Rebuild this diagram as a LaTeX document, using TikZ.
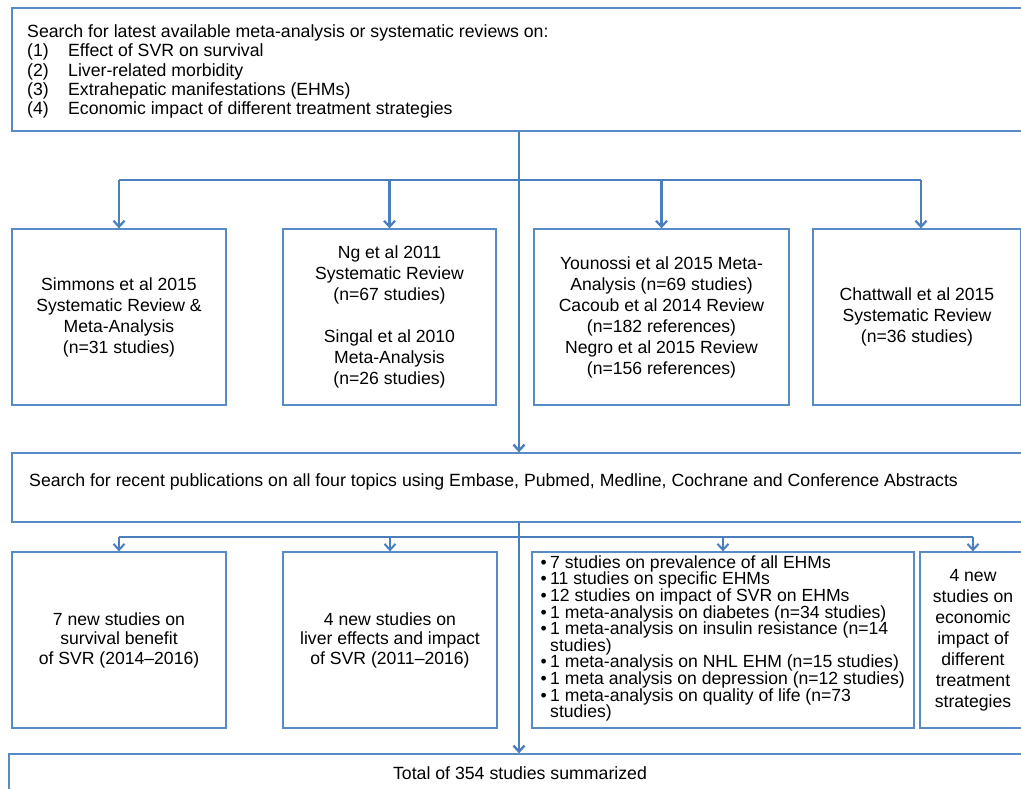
\documentclass[tikz,border=0pt]{standalone}
\usepackage{fontspec}
\setmainfont{Liberation Sans}
\usetikzlibrary{arrows.meta}
\definecolor{boxblue}{RGB}{88,138,197}
\definecolor{lineblue}{RGB}{74,126,189}
\begin{document}
\begin{tikzpicture}[x=1pt,y=-1pt,
  box/.style={draw=boxblue,line width=1.3pt,rectangle,inner sep=0pt,align=center},
  fA/.style={font=\fontsize{17.6}{21}\selectfont},
  fB/.style={font=\fontsize{17.6}{19.5}\selectfont},
  conn/.style={draw=lineblue,line width=2.4pt},
  arr/.style={draw=lineblue,line width=2.2pt,-{Straight Barb[length=6pt,width=11pt]}},
  txt/.style={inner sep=0pt,font=\fontsize{17.7}{19.2}\selectfont}]
\useasboundingbox (0,0) rectangle (1021,788);

% top box
\node[box,minimum width=1024pt,minimum height=123pt] (top) at (524,69.5) {};
\node[txt,anchor=west,align=left] (toptext) at (27,71.5) {Search for latest available meta-analysis or systematic reviews on:\\
\makebox[41pt][l]{(1)}Effect of SVR on survival\\
\makebox[41pt][l]{(2)}Liver-related morbidity\\
\makebox[41pt][l]{(3)}Extrahepatic manifestations (EHMs)\\
\makebox[41pt][l]{(4)}Economic impact of different treatment strategies};

% row 1
\node[box,fA,minimum width=214pt,minimum height=176pt] (b1) at (119,317) {Simmons et al 2015\\Systematic Review \&\\Meta-Analysis\\(n=31 studies)};
\node[box,fA,minimum width=213pt,minimum height=176pt] (b2) at (389.5,317) {Ng et al 2011\\Systematic Review\\(n=67 studies)\\[21pt]Singal et al 2010\\Meta-Analysis\\(n=26 studies)};
\node[box,fA,minimum width=255pt,minimum height=176pt] (b3) at (661.5,317) {Younossi et al 2015 Meta-\\Analysis (n=69 studies)\\Cacoub et al 2014 Review\\(n=182 references)\\Negro et al 2015 Review\\(n=156 references)};
\node[box,fA,minimum width=208pt,minimum height=176pt] (b4) at (917,317) {Chattwall et al 2015\\Systematic Review\\(n=36 studies)};

% search box
\node[box,minimum width=1024pt,minimum height=69pt] (search) at (524,487.5) {};
\node[txt,anchor=west] (searchtext) at (29,482) {Search for recent publications on all four topics using Embase, Pubmed, Medline, Cochrane and Conference Abstracts};

% row 2
\node[box,fB,minimum width=214pt,minimum height=176pt] (c1) at (119,640) {7 new studies on\\survival benefit\\of SVR (2014--2016)};
\node[box,fB,minimum width=214pt,minimum height=176pt] (c2) at (390,640) {4 new studies on\\liver effects and impact\\of SVR (2011--2016)};
\node[box,minimum width=382pt,minimum height=176pt] (c3) at (723,640) {};
\node[inner sep=0pt,anchor=west,align=left,font=\fontsize{17.6}{16.6}\selectfont] (c3text) at (550,638.5) {%
\llap{•\hspace{3.5pt}}7 studies on prevalence of all EHMs\\
\llap{•\hspace{3.5pt}}11 studies on specific EHMs\\
\llap{•\hspace{3.5pt}}12 studies on impact of SVR on EHMs\\
\llap{•\hspace{3.5pt}}1 meta-analysis on diabetes (n=34 studies)\\
\llap{•\hspace{3.5pt}}1 meta-analysis on insulin resistance (n=14\\
studies)\\
\llap{•\hspace{3.5pt}}1 meta-analysis on NHL EHM (n=15 studies)\\
\llap{•\hspace{3.5pt}}1 meta analysis on depression (n=12 studies)\\
\llap{•\hspace{3.5pt}}1 meta-analysis on quality of life (n=73\\
studies)};
\node[box,fA,minimum width=106pt,minimum height=176pt] (c4) at (973,640) {4 new\\studies on\\economic\\impact of\\different\\treatment\\strategies};

% bottom box
\node[box,minimum width=1027pt,minimum height=46pt] (bottom) at (522.5,777) {};
\node[txt,anchor=center] (bottomtext) at (520,773) {Total of 354 studies summarized};

% connectors level 1
\coordinate (j1) at (519,180);
\draw[conn] (top.south -| j1) -- (j1);
\draw[arr,line width=2.4pt] (j1) -- (search.north -| j1);
\draw[conn,line width=2.2pt] (b1.north |- j1) -- ([xshift=4pt]b4.north |- j1);
\draw[arr] (b1.north |- j1) -- (b1.north);
\draw[arr] (b2.north |- j1) -- (b2.north);
\draw[arr] (b3.north |- j1) -- (b3.north);
\draw[arr] ([xshift=4pt]b4.north |- j1) -- ([xshift=4pt]b4.north);

% connectors level 2
\coordinate (j2) at (519,537);
\draw[arr,line width=2.4pt] (search.south -| j2) -- (bottom.north -| j2);
\draw[conn,line width=2pt] (c1.north |- j2) -- (c4.north |- j2);
\draw[arr,line width=2pt] (c1.north |- j2) -- (c1.north);
\draw[arr,line width=2pt] (c2.north |- j2) -- (c2.north);
\draw[arr,line width=2pt] (c3.north |- j2) -- (c3.north);
\draw[arr,line width=2pt] (c4.north |- j2) -- (c4.north);
\end{tikzpicture}
\end{document}
